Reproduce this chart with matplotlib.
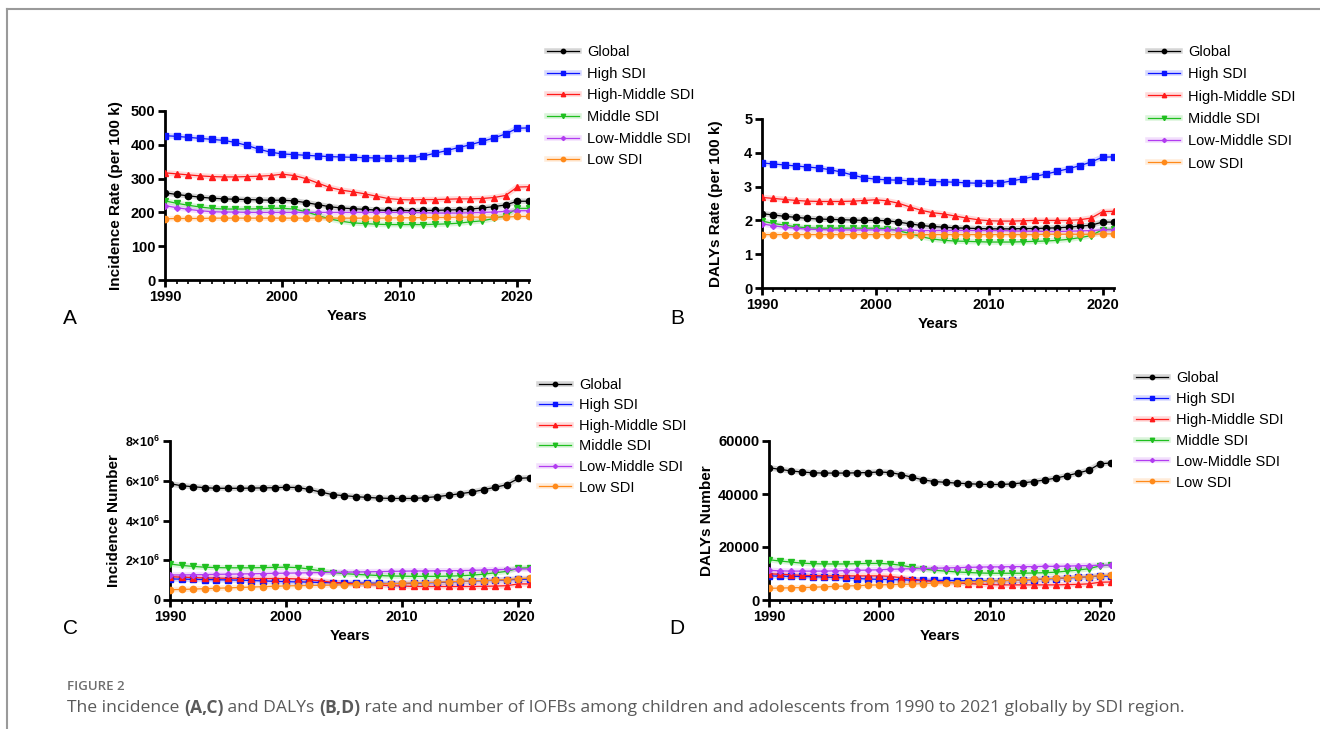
import matplotlib
matplotlib.use("Agg")
import matplotlib.pyplot as plt
from matplotlib.lines import Line2D
from matplotlib.ticker import FuncFormatter, MultipleLocator

plt.rcParams["font.family"] = ["Liberation Sans", "DejaVu Sans"]
plt.rcParams["mathtext.fontset"] = "custom"
plt.rcParams["mathtext.rm"] = "Liberation Sans"
plt.rcParams["mathtext.bf"] = "Liberation Sans:bold"

W, H, DPI = 1320, 729, 100

YEARS = list(range(1990, 2022))
SERIES = ["Global", "High SDI", "High-Middle SDI", "Middle SDI", "Low-Middle SDI", "Low SDI"]
COLORS = ["#000000", "#0a14ff", "#ff1a1a", "#1fbf1f", "#b23cf0", "#ff8a1a"]
MARKERS = ["o", "s", "^", "v", "D", "o"]
MSIZES = [4.5, 4.5, 4.5, 4.5, 3.0, 4.5]

# A: incidence rate (per 100 k)
A_GLOBAL = [258, 253, 249, 245, 242, 240, 239, 238, 237, 236, 236, 234, 229, 223, 217, 213,
            211, 209, 207, 206, 206, 205, 206, 206, 207, 208, 210, 213, 217, 222, 233, 233]
A_HIGH = [427, 425, 422, 419, 416, 413, 407, 398, 387, 378, 373, 371, 369, 367, 365, 364,
          363, 362, 361, 360, 360, 361, 367, 375, 383, 392, 400, 410, 420, 432, 449, 450]
A_HMID = [317, 314, 311, 308, 306, 305, 305, 306, 307, 309, 313, 309, 300, 287, 274, 266,
          261, 255, 248, 241, 238, 237, 238, 238, 239, 240, 240, 241, 244, 250, 275, 276]
A_MID = [234, 227, 221, 216, 212, 210, 210, 210, 211, 212, 212, 210, 202, 191, 181, 174,
         169, 167, 165, 164, 164, 164, 164, 165, 166, 168, 172, 175, 182, 190, 212, 212]
A_LMID = [220, 214, 209, 205, 202, 201, 201, 200, 200, 200, 200, 200, 200, 200, 200, 200,
          200, 200, 200, 200, 200, 200, 199, 198, 198, 198, 199, 200, 201, 203, 205, 205]
A_LOW = [181, 182, 182, 182, 183, 183, 183, 183, 183, 183, 183, 183, 183, 183, 183, 183,
         183, 183, 183, 183, 184, 184, 185, 185, 185, 186, 186, 186, 186, 186, 188, 188]

# B: DALYs rate (per 100 k)
B_GLOBAL = [2.20, 2.16, 2.12, 2.09, 2.06, 2.04, 2.03, 2.02, 2.01, 2.00, 2.00, 1.99, 1.95, 1.90, 1.85, 1.82,
            1.80, 1.78, 1.77, 1.76, 1.75, 1.75, 1.75, 1.76, 1.76, 1.77, 1.78, 1.80, 1.83, 1.86, 1.95, 1.95]
B_HIGH = [3.70, 3.67, 3.64, 3.61, 3.58, 3.55, 3.50, 3.43, 3.34, 3.26, 3.22, 3.20, 3.19, 3.17, 3.16, 3.15,
          3.14, 3.13, 3.11, 3.10, 3.10, 3.11, 3.17, 3.23, 3.30, 3.37, 3.45, 3.53, 3.62, 3.73, 3.87, 3.88]
B_HMID = [2.68, 2.65, 2.62, 2.59, 2.57, 2.56, 2.56, 2.56, 2.57, 2.59, 2.61, 2.58, 2.51, 2.40, 2.30, 2.23,
          2.19, 2.13, 2.07, 2.02, 1.99, 1.98, 1.98, 1.99, 2.00, 2.00, 2.00, 2.00, 2.02, 2.07, 2.26, 2.27]
B_MID = [1.98, 1.91, 1.86, 1.81, 1.78, 1.77, 1.77, 1.77, 1.77, 1.77, 1.77, 1.76, 1.70, 1.61, 1.52, 1.45,
         1.41, 1.39, 1.38, 1.37, 1.36, 1.36, 1.36, 1.37, 1.38, 1.39, 1.41, 1.44, 1.49, 1.55, 1.73, 1.74]
B_LMID = [1.90, 1.84, 1.80, 1.77, 1.74, 1.73, 1.72, 1.72, 1.72, 1.72, 1.72, 1.72, 1.71, 1.71, 1.70, 1.70,
          1.70, 1.70, 1.70, 1.70, 1.70, 1.70, 1.69, 1.68, 1.68, 1.67, 1.67, 1.68, 1.69, 1.70, 1.72, 1.72]
B_LOW = [1.58, 1.58, 1.58, 1.58, 1.58, 1.58, 1.58, 1.58, 1.58, 1.58, 1.58, 1.58, 1.58, 1.58, 1.58, 1.58,
         1.58, 1.58, 1.58, 1.58, 1.58, 1.58, 1.58, 1.58, 1.58, 1.59, 1.59, 1.59, 1.59, 1.59, 1.60, 1.60]

# C: incidence number (millions)
C_GLOBAL = [5.85, 5.75, 5.70, 5.65, 5.62, 5.62, 5.62, 5.63, 5.64, 5.65, 5.67, 5.66, 5.56, 5.43, 5.30, 5.25,
            5.20, 5.16, 5.13, 5.11, 5.11, 5.11, 5.15, 5.20, 5.27, 5.35, 5.43, 5.55, 5.67, 5.80, 6.12, 6.15]
C_HIGH = [1.06, 1.05, 1.04, 1.03, 1.02, 1.01, 1.00, 0.98, 0.96, 0.94, 0.92, 0.91, 0.90, 0.88, 0.87, 0.86,
          0.85, 0.85, 0.84, 0.83, 0.83, 0.84, 0.86, 0.88, 0.90, 0.93, 0.95, 0.97, 0.99, 1.01, 1.04, 1.05]
C_HMID = [1.17, 1.15, 1.13, 1.11, 1.10, 1.09, 1.09, 1.08, 1.08, 1.08, 1.08, 1.06, 1.01, 0.96, 0.89, 0.85,
          0.81, 0.78, 0.75, 0.72, 0.70, 0.68, 0.68, 0.68, 0.68, 0.68, 0.68, 0.69, 0.70, 0.72, 0.81, 0.81]
C_MID = [1.81, 1.74, 1.69, 1.65, 1.63, 1.62, 1.62, 1.62, 1.63, 1.64, 1.65, 1.63, 1.56, 1.46, 1.38, 1.33,
         1.29, 1.26, 1.23, 1.21, 1.20, 1.19, 1.19, 1.19, 1.20, 1.22, 1.25, 1.30, 1.37, 1.44, 1.60, 1.62]
C_LMID = [1.26, 1.26, 1.27, 1.28, 1.29, 1.30, 1.31, 1.32, 1.33, 1.34, 1.35, 1.36, 1.37, 1.38, 1.39, 1.40,
          1.41, 1.42, 1.43, 1.44, 1.45, 1.46, 1.46, 1.47, 1.47, 1.48, 1.49, 1.51, 1.53, 1.54, 1.56, 1.56]
C_LOW = [0.52, 0.53, 0.55, 0.57, 0.59, 0.61, 0.63, 0.65, 0.67, 0.69, 0.71, 0.72, 0.73, 0.74, 0.75, 0.77,
         0.78, 0.80, 0.81, 0.83, 0.84, 0.86, 0.88, 0.90, 0.92, 0.94, 0.96, 0.98, 1.00, 1.03, 1.08, 1.10]

# D: DALYs number
D_GLOBAL = [49900, 49300, 48700, 48300, 48000, 47900, 47900, 47900, 48000, 48100, 48300, 48100, 47300, 46300, 45300, 44700,
            44400, 44100, 43900, 43700, 43600, 43600, 43800, 44200, 44700, 45300, 46000, 46900, 47900, 49000, 51400, 51700]
D_HIGH = [9100, 9000, 8900, 8900, 8800, 8700, 8500, 8300, 8100, 7900, 7800, 7700, 7600, 7500, 7400, 7400,
          7400, 7300, 7300, 7200, 7200, 7300, 7400, 7500, 7700, 7900, 8100, 8300, 8500, 8800, 9000, 9000]
D_HMID = [9900, 9700, 9500, 9300, 9200, 9100, 9100, 9100, 9100, 9100, 9100, 8900, 8400, 7900, 7300, 7000,
          6700, 6500, 6200, 6000, 5800, 5700, 5700, 5700, 5700, 5700, 5700, 5800, 5900, 6100, 6700, 6800]
D_MID = [15200, 14700, 14300, 13900, 13700, 13600, 13600, 13600, 13700, 13800, 13800, 13600, 13100, 12300, 11700, 11200,
         10900, 10600, 10400, 10200, 10100, 10100, 10100, 10100, 10200, 10300, 10500, 10900, 11300, 11800, 12900, 13200]
D_LMID = [11200, 11000, 10900, 10900, 10900, 10900, 11000, 11100, 11200, 11300, 11400, 11600, 11700, 11800, 11900, 12000,
          12100, 12200, 12300, 12400, 12500, 12500, 12600, 12600, 12600, 12700, 12700, 12800, 12900, 13000, 13100, 13200]
D_LOW = [4400, 4500, 4600, 4700, 4800, 5000, 5100, 5300, 5400, 5600, 5700, 5800, 5900, 6000, 6200, 6300,
         6500, 6600, 6800, 6900, 7100, 7200, 7400, 7600, 7800, 8000, 8200, 8400, 8600, 8800, 9200, 9400]

CAPTION = [("The incidence ", "normal"), ("(A,C)", "bold"), (" and DALYs ", "normal"),
           ("(B,D)", "bold"),
           (" rate and number of IOFBs among children and adolescents from 1990 to 2021 "
            "globally by SDI region.", "normal")]


def px_axes(fig, x0, y0, x1, y1):
    # pixel box (top-left origin) -> figure axes
    return fig.add_axes([x0 / W, 1 - y1 / H, (x1 - x0) / W, (y1 - y0) / H])


def draw_panel(ax, data, ylim, ystep, ylabel, yfmt=None):
    for vals, c, m, ms in zip(data, COLORS, MARKERS, MSIZES):
        ax.plot(YEARS, vals, color=c, lw=4.0, alpha=0.16, solid_capstyle="round", zorder=2)
        ax.plot(YEARS, vals, color=c, lw=0.9, marker=m, markersize=ms, zorder=3)
    ax.set_xlim(1990, 2021)
    ax.set_ylim(*ylim)
    ax.xaxis.set_major_locator(MultipleLocator(10))
    ax.xaxis.set_minor_locator(MultipleLocator(1))
    ax.yaxis.set_major_locator(MultipleLocator(ystep))
    if yfmt is not None:
        ax.yaxis.set_major_formatter(FuncFormatter(yfmt))
    for s in ["top", "right"]:
        ax.spines[s].set_visible(False)
    for s in ["left", "bottom"]:
        ax.spines[s].set_linewidth(2.0)
    ax.tick_params(which="major", width=2.0, length=5, labelsize=10.5, pad=2)
    ax.tick_params(axis="x", which="minor", width=1.2, length=3)
    for lab in ax.get_xticklabels() + ax.get_yticklabels():
        lab.set_fontweight("bold")
    ax.set_xlabel("Years", fontsize=11, fontweight="bold", labelpad=4)
    ax.set_ylabel(ylabel, fontsize=11, fontweight="bold")
    ax.patch.set_alpha(0)


def add_legend(fig, x, y_top, step):
    handles = [(Line2D([], [], color=c, lw=4.0, alpha=0.16),
                Line2D([], [], color=c, lw=0.9, marker=m, markersize=ms * 0.7))
               for c, m, ms in zip(COLORS, MARKERS, MSIZES)]
    fig.legend(handles, SERIES, loc="upper left", bbox_to_anchor=(x / W, 1 - y_top / H),
               frameon=False, fontsize=10.5, handlelength=2.2, handletextpad=0.55,
               labelspacing=(step - 13.5) / 10.5 * 0.72, borderaxespad=0, borderpad=0)


def sci_fmt(v, pos):
    if v == 0:
        return "0"
    return r"$\mathbf{%d{\times}10^{6}}$" % round(v / 1e6)


fig = plt.figure(figsize=(W / DPI, H / DPI), dpi=DPI)

axA = px_axes(fig, 165, 111, 529, 280)
draw_panel(axA, [A_GLOBAL, A_HIGH, A_HMID, A_MID, A_LMID, A_LOW], (0, 500), 100,
           "Incidence Rate (per 100 k)")
axA.yaxis.set_label_coords(-0.115, 0.5)

axB = px_axes(fig, 762, 119, 1114, 288)
draw_panel(axB, [B_GLOBAL, B_HIGH, B_HMID, B_MID, B_LMID, B_LOW], (0, 5), 1,
           "DALYs Rate (per 100 k)")
axB.yaxis.set_label_coords(-0.111, 0.5)

axC = px_axes(fig, 170, 441, 530, 600)
C_DATA = [[v * 1e6 for v in s] for s in [C_GLOBAL, C_HIGH, C_HMID, C_MID, C_LMID, C_LOW]]
draw_panel(axC, C_DATA, (0, 8e6), 2e6, "Incidence Number", sci_fmt)
axC.tick_params(axis="y", labelsize=9)
axC.yaxis.set_label_coords(-0.135, 0.5)

axD = px_axes(fig, 769, 441, 1111, 600)
draw_panel(axD, [D_GLOBAL, D_HIGH, D_HMID, D_MID, D_LMID, D_LOW], (0, 60000), 20000,
           "DALYs Number")
axD.yaxis.set_label_coords(-0.161, 0.5)

add_legend(fig, 547, 45, 21.2)
add_legend(fig, 1148, 45, 21.8)
add_legend(fig, 539, 378, 20.0)
add_legend(fig, 1136, 371, 20.4)

for letter, x, y in [("A", 70, 318), ("B", 677, 318), ("C", 70, 628), ("D", 677, 628)]:
    fig.text(x / W, 1 - y / H, letter, fontsize=15, ha="center", va="center")

# frame lines of the figure page
fig.add_artist(Line2D([7 / W, 1], [1 - 9 / H, 1 - 9 / H], color="#9a9a9a", lw=1.5))
fig.add_artist(Line2D([7 / W, 7 / W], [0, 1 - 9 / H], color="#9a9a9a", lw=1.5))

cap_font = ["Open Sans", "DejaVu Sans"]
fig.text(67 / W, 1 - 686 / H, "FIGURE 2", fontsize=9.5, color="#6e6e6e",
         family=cap_font, fontweight="semibold", va="center")

# caption with bold panel references, laid out piece by piece
renderer = fig.canvas.get_renderer()
x = 67
for txt, weight in CAPTION:
    t = fig.text(x / W, 1 - 708 / H, txt, fontsize=12.6, color="#5a5a5a", family=cap_font,
                 fontweight=weight, va="center")
    x += t.get_window_extent(renderer).width

fig.savefig("out.png", dpi=DPI, facecolor="white")
